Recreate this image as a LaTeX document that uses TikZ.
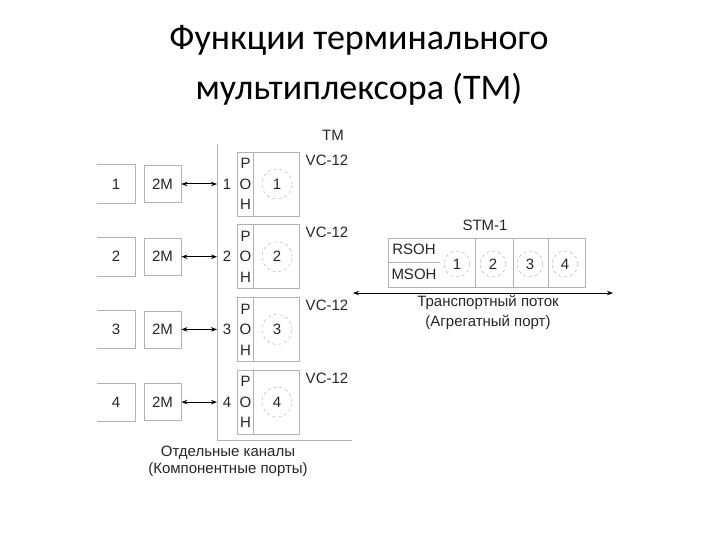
\documentclass[tikz,border=0pt]{standalone}
\usepackage{fontspec}
\setmainfont{Liberation Sans}
\newfontfamily\titlefont{Carlito}
\usetikzlibrary{arrows.meta,positioning,calc}

\begin{document}
\begin{tikzpicture}[x=1pt, y=-1pt, >={Stealth[length=6pt,width=4.5pt]},
  every node/.style={font=\fontsize{15}{17}\selectfont, text=black!85},
  frame/.style={draw=black!30, line width=0.8pt},
  slot/.style={circle, draw=black!35, dashed, minimum size=30pt, inner sep=0pt},
  link/.style={<->, line width=1pt},
  heading/.style={font=\titlefont\fontsize{36}{46}\selectfont, text=black, anchor=base}]
  \useasboundingbox (0,0) rectangle (720,540);

  % title
  \node[heading] (title1) at (359,50) {Функции терминального};
  \node[heading] (title2) at (359,100) {мультиплексора (ТМ)};

  % TM frame
  \coordinate (tmtop) at (217,144);
  \coordinate (tmbot) at (217,440);
  \coordinate (tmend) at (352,440);
  \draw[frame] (tmtop) -- (tmbot) -- (tmend);
  \node (tm) at (333,135) {TM};

  % channels and VC-12 containers
  \foreach \i in {1,...,4} {
    \pgfmathsetmacro{\yy}{184+(\i-1)*72.7}
    \node[minimum width=38pt, minimum height=38pt] (ch\i) at (116,\yy) {\i};
    \draw[frame] (ch\i.north west) -- (ch\i.north east) -- (ch\i.south east) -- (ch\i.south west);
    \node[frame, minimum width=37pt, minimum height=37pt] (e\i) at (162.5,\yy) {2M};
    \coordinate (p\i) at (217,\yy);
    \draw[link] (e\i) -- (p\i);
    \node (n\i) at (227,\yy) {\i};
    \node[frame, minimum width=62pt, minimum height=64pt] (vc\i) at (268,\yy) {};
    \draw[frame] ($(vc\i.north west)+(17,0)$) -- ($(vc\i.south west)+(17,0)$);
    \node[align=center, inner sep=0pt, font=\fontsize{15}{20.5}\selectfont] (poh\i)
      at (245.5,\yy) {P\\O\\H};
    \node[slot] (s\i) at (277,\yy) {\i};
    \node (lbl\i) at (327,\yy-24) {VC-12};
  }
  \node[align=center, font=\fontsize{15}{17}\selectfont] (comp) at (228,461)
    {Отдельные каналы\\(Компонентные порты)};

  % STM-1 frame
  \node (stm) at (485,225) {STM-1};
  \node[frame, minimum width=197pt, minimum height=49pt] (stmbox) at (486.5,262.5) {};
  \foreach \x in {475,513,548}
    \draw[frame] (\x,238) -- (\x,287);
  \draw[frame] (stmbox.west) -- ++(52,0);
  \node (rsoh) at (414,249) {RSOH};
  \node (msoh) at (414,274) {MSOH};
  \foreach \i/\x in {1/457,2/493,3/530,4/565}
    \node[slot, minimum size=26pt] (t\i) at (\x,264) {\i};

  % aggregate port
  \coordinate (tl) at (353,293);
  \coordinate (tr) at (613,293);
  \draw[link] (tl) -- (tr);
  \node[align=center, font=\fontsize{15}{20}\selectfont] (agg) at (488,312)
    {Транспортный поток\\(Агрегатный порт)};
\end{tikzpicture}
\end{document}
